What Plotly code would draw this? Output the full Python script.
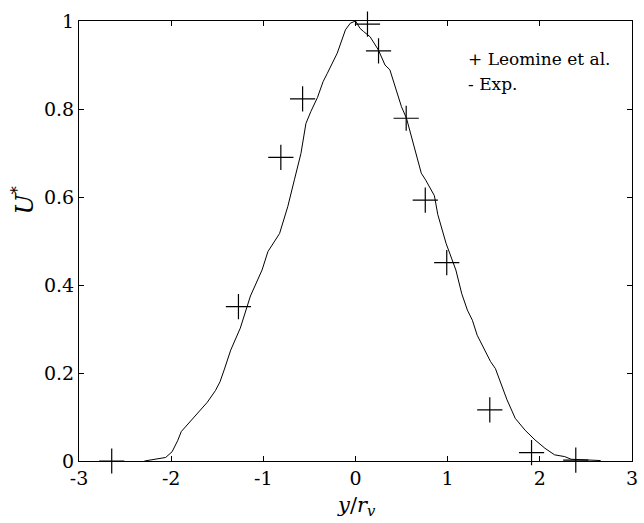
import plotly.graph_objects as go

# Leomine et al. (crosses)
leo_x = [-2.645, -1.27, -0.81, -0.574, 0.13, 0.25, 0.55, 0.757, 0.99, 1.457, 1.91, 2.39]
leo_y = [0.0, 0.351, 0.69, 0.823, 0.993, 0.932, 0.779, 0.593, 0.451, 0.116, 0.019, 0.002]

# Experimental profile (line)
exp_x = [-2.29, -2.13, -2.06, -1.99, -1.93, -1.89, -1.77, -1.68, -1.61, -1.52, -1.47,
         -1.425, -1.354, -1.25, -1.14, -1.014, -0.95, -0.824, -0.735, -0.663, -0.592,
         -0.538, -0.485, -0.413, -0.352, -0.306, -0.198, -0.109, -0.056, 0.0, 0.05,
         0.088, 0.159, 0.249, 0.32, 0.373, 0.445, 0.499, 0.553, 0.642, 0.714, 0.76,
         0.856, 0.893, 0.982, 1.089, 1.153, 1.214, 1.268, 1.32, 1.41, 1.465, 1.518,
         1.572, 1.626, 1.644, 1.733, 1.84, 1.947, 2.055, 2.16, 2.27, 2.34, 2.48, 2.66]
exp_y = [0.0, 0.005, 0.008, 0.021, 0.046, 0.067, 0.095, 0.115, 0.133, 0.16, 0.18,
         0.207, 0.252, 0.302, 0.375, 0.434, 0.476, 0.517, 0.578, 0.639, 0.699,
         0.767, 0.794, 0.826, 0.862, 0.881, 0.927, 0.98, 0.995, 1.0, 0.983,
         0.976, 0.964, 0.934, 0.9, 0.889, 0.843, 0.805, 0.779, 0.707, 0.654, 0.639,
         0.603, 0.56, 0.495, 0.434, 0.38, 0.343, 0.32, 0.286, 0.248, 0.226, 0.21,
         0.18, 0.146, 0.139, 0.097, 0.07, 0.048, 0.029, 0.014, 0.01, 0.004, 0.002, 0.001]

x_ticks = [-3, -2, -1, 0, 1, 2, 3]
x_ticktext = ["-3", "-2", "-1", "0", "1", "2", "3"]
y_ticks = [0, 0.2, 0.4, 0.6, 0.8, 1]
y_ticktext = ["0", "0.2", "0.4", "0.6", "0.8", "1"]

FONT = "DejaVu Serif"

L, R, T, B = 79, 6, 21, 62
W, H = 644, 523
plot_w = W - L - R
plot_h = H - T - B


def px_to_paper(px, py):
    return (px - L) / plot_w, (H - B - py) / plot_h


fig = go.Figure()
fig.add_trace(go.Scatter(x=exp_x, y=exp_y, mode="lines",
                         line=dict(color="black", width=1), showlegend=False))
fig.add_trace(go.Scatter(x=leo_x, y=leo_y, mode="markers", cliponaxis=False,
                         marker=dict(symbol="cross-thin", size=18,
                                     line=dict(color="black", width=1.2)),
                         showlegend=False))

axis_common = dict(showgrid=False, zeroline=False, showline=True, linecolor="black",
                   linewidth=1, mirror="ticks", ticks="inside", ticklen=5,
                   tickcolor="black", tickfont=dict(family=FONT, size=19, color="black"),
                   ticklabeloverflow="allow")

fig.update_xaxes(range=[-3, 3], tickvals=x_ticks, ticktext=x_ticktext, **axis_common)
fig.update_yaxes(range=[0, 1], tickvals=y_ticks, ticktext=y_ticktext, **axis_common)

fig.update_layout(
    width=W, height=H,
    margin=dict(l=L, r=R, t=T, b=B),
    plot_bgcolor="white", paper_bgcolor="white",
    font=dict(family=FONT, color="black"),
)

ax1, ay1 = px_to_paper(470, 59)
ax2, ay2 = px_to_paper(470, 84)
axl, ayl = px_to_paper(22, 200)
axx, ayx = px_to_paper(360, 506)

fig.add_annotation(text="+ Leomine et al.", x=ax1, y=ay1, xref="paper", yref="paper",
                   xanchor="left", yanchor="middle", showarrow=False,
                   font=dict(family=FONT, size=17, color="black"))
fig.add_annotation(text="- Exp.", x=ax2, y=ay2, xref="paper", yref="paper",
                   xanchor="left", yanchor="middle", showarrow=False,
                   font=dict(family=FONT, size=17, color="black"))
fig.add_annotation(text="<i>U</i><sup>*</sup>", x=axl, y=ayl, xref="paper", yref="paper",
                   xanchor="center", yanchor="middle", showarrow=False, textangle=-90,
                   font=dict(family=FONT, size=24, color="black"))
fig.add_annotation(text="<i>y</i>/<i>r</i><sub><i>v</i></sub>", x=axx, y=ayx,
                   xref="paper", yref="paper", xanchor="center", yanchor="middle",
                   showarrow=False, font=dict(family=FONT, size=21, color="black"))

fig.write_html("out.html")
